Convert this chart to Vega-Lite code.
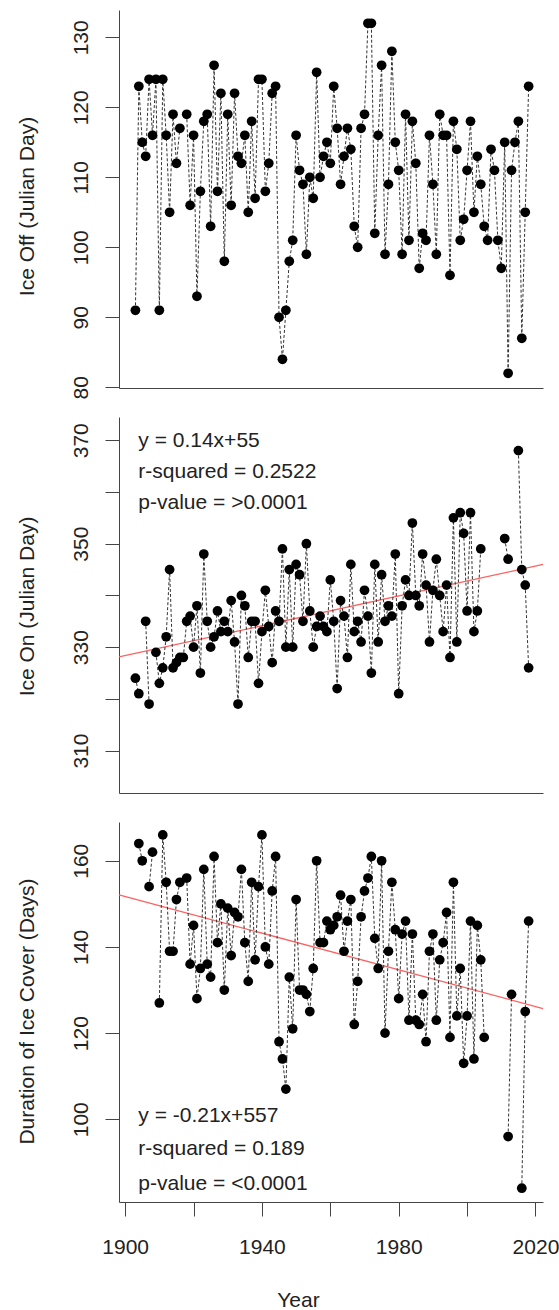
{
  "$schema": "https://vega.github.io/schema/vega-lite/v6.json",
  "background": "white",
  "padding": {"left": 16, "top": 10, "right": 0, "bottom": 0},
  "autosize": {"type": "pad"},
  "spacing": 29,
  "bounds": "flush",
  "config": {
    "view": {"stroke": null},
    "font": "Liberation Sans",
    "axis": {
      "grid": false, "domainColor": "#444", "domainWidth": 1, "tickColor": "#444", "tickWidth": 1, "tickSize": 14,
      "labelFont": "Liberation Sans", "labelFontSize": 21, "labelColor": "#222",
      "titleFont": "Liberation Sans", "titleFontSize": 21, "titleFontWeight": "normal", "titleColor": "#222",
      "labelOverlap": false, "labelFlush": false
    }
  },
  "datasets": {
    "off": [
      {"Year":1903,"v":91},{"Year":1904,"v":123},{"Year":1905,"v":115},{"Year":1906,"v":113},{"Year":1907,"v":124},{"Year":1908,"v":116},{"Year":1909,"v":124},{"Year":1910,"v":91},{"Year":1911,"v":124},{"Year":1912,"v":116},
      {"Year":1913,"v":105},{"Year":1914,"v":119},{"Year":1915,"v":112},{"Year":1916,"v":117},{"Year":1917,"v":null},{"Year":1918,"v":119},{"Year":1919,"v":106},{"Year":1920,"v":116},{"Year":1921,"v":93},{"Year":1922,"v":108},
      {"Year":1923,"v":118},{"Year":1924,"v":119},{"Year":1925,"v":103},{"Year":1926,"v":126},{"Year":1927,"v":108},{"Year":1928,"v":122},{"Year":1929,"v":98},{"Year":1930,"v":119},{"Year":1931,"v":106},{"Year":1932,"v":122},
      {"Year":1933,"v":113},{"Year":1934,"v":112},{"Year":1935,"v":116},{"Year":1936,"v":105},{"Year":1937,"v":118},{"Year":1938,"v":107},{"Year":1939,"v":124},{"Year":1940,"v":124},{"Year":1941,"v":108},{"Year":1942,"v":112},
      {"Year":1943,"v":122},{"Year":1944,"v":123},{"Year":1945,"v":90},{"Year":1946,"v":84},{"Year":1947,"v":91},{"Year":1948,"v":98},{"Year":1949,"v":101},{"Year":1950,"v":116},{"Year":1951,"v":111},{"Year":1952,"v":109},
      {"Year":1953,"v":99},{"Year":1954,"v":110},{"Year":1955,"v":107},{"Year":1956,"v":125},{"Year":1957,"v":110},{"Year":1958,"v":113},{"Year":1959,"v":115},{"Year":1960,"v":112},{"Year":1961,"v":123},{"Year":1962,"v":117},
      {"Year":1963,"v":109},{"Year":1964,"v":113},{"Year":1965,"v":117},{"Year":1966,"v":114},{"Year":1967,"v":103},{"Year":1968,"v":100},{"Year":1969,"v":117},{"Year":1970,"v":119},{"Year":1971,"v":132},{"Year":1972,"v":132},
      {"Year":1973,"v":102},{"Year":1974,"v":116},{"Year":1975,"v":126},{"Year":1976,"v":99},{"Year":1977,"v":109},{"Year":1978,"v":128},{"Year":1979,"v":115},{"Year":1980,"v":111},{"Year":1981,"v":99},{"Year":1982,"v":119},
      {"Year":1983,"v":101},{"Year":1984,"v":118},{"Year":1985,"v":112},{"Year":1986,"v":97},{"Year":1987,"v":102},{"Year":1988,"v":101},{"Year":1989,"v":116},{"Year":1990,"v":109},{"Year":1991,"v":99},{"Year":1992,"v":119},
      {"Year":1993,"v":116},{"Year":1994,"v":116},{"Year":1995,"v":96},{"Year":1996,"v":118},{"Year":1997,"v":114},{"Year":1998,"v":101},{"Year":1999,"v":104},{"Year":2000,"v":111},{"Year":2001,"v":118},{"Year":2002,"v":105},
      {"Year":2003,"v":113},{"Year":2004,"v":109},{"Year":2005,"v":103},{"Year":2006,"v":101},{"Year":2007,"v":114},{"Year":2008,"v":111},{"Year":2009,"v":101},{"Year":2010,"v":97},{"Year":2011,"v":115},{"Year":2012,"v":82},
      {"Year":2013,"v":111},{"Year":2014,"v":115},{"Year":2015,"v":118},{"Year":2016,"v":87},{"Year":2017,"v":105},{"Year":2018,"v":123}
    ],
    "on": [
      {"Year":1903,"v":324},{"Year":1904,"v":321},{"Year":1905,"v":null},{"Year":1906,"v":335},{"Year":1907,"v":319},{"Year":1908,"v":null},{"Year":1909,"v":329},{"Year":1910,"v":323},{"Year":1911,"v":326},{"Year":1912,"v":332},
      {"Year":1913,"v":345},{"Year":1914,"v":326},{"Year":1915,"v":327},{"Year":1916,"v":328},{"Year":1917,"v":328},{"Year":1918,"v":335},{"Year":1919,"v":336},{"Year":1920,"v":330},{"Year":1921,"v":338},{"Year":1922,"v":325},
      {"Year":1923,"v":348},{"Year":1924,"v":335},{"Year":1925,"v":330},{"Year":1926,"v":332},{"Year":1927,"v":337},{"Year":1928,"v":333},{"Year":1929,"v":335},{"Year":1930,"v":333},{"Year":1931,"v":339},{"Year":1932,"v":331},
      {"Year":1933,"v":319},{"Year":1934,"v":340},{"Year":1935,"v":338},{"Year":1936,"v":328},{"Year":1937,"v":335},{"Year":1938,"v":335},{"Year":1939,"v":323},{"Year":1940,"v":333},{"Year":1941,"v":341},{"Year":1942,"v":334},
      {"Year":1943,"v":327},{"Year":1944,"v":337},{"Year":1945,"v":335},{"Year":1946,"v":349},{"Year":1947,"v":330},{"Year":1948,"v":345},{"Year":1949,"v":330},{"Year":1950,"v":346},{"Year":1951,"v":344},{"Year":1952,"v":335},
      {"Year":1953,"v":350},{"Year":1954,"v":337},{"Year":1955,"v":330},{"Year":1956,"v":334},{"Year":1957,"v":336},{"Year":1958,"v":334},{"Year":1959,"v":333},{"Year":1960,"v":343},{"Year":1961,"v":335},{"Year":1962,"v":322},
      {"Year":1963,"v":339},{"Year":1964,"v":336},{"Year":1965,"v":328},{"Year":1966,"v":346},{"Year":1967,"v":333},{"Year":1968,"v":335},{"Year":1969,"v":331},{"Year":1970,"v":341},{"Year":1971,"v":336},{"Year":1972,"v":325},
      {"Year":1973,"v":346},{"Year":1974,"v":331},{"Year":1975,"v":344},{"Year":1976,"v":335},{"Year":1977,"v":338},{"Year":1978,"v":336},{"Year":1979,"v":348},{"Year":1980,"v":321},{"Year":1981,"v":338},{"Year":1982,"v":343},
      {"Year":1983,"v":340},{"Year":1984,"v":354},{"Year":1985,"v":340},{"Year":1986,"v":338},{"Year":1987,"v":348},{"Year":1988,"v":342},{"Year":1989,"v":331},{"Year":1990,"v":341},{"Year":1991,"v":347},{"Year":1992,"v":340},
      {"Year":1993,"v":333},{"Year":1994,"v":342},{"Year":1995,"v":328},{"Year":1996,"v":355},{"Year":1997,"v":331},{"Year":1998,"v":356},{"Year":1999,"v":352},{"Year":2000,"v":337},{"Year":2001,"v":356},{"Year":2002,"v":333},
      {"Year":2003,"v":337},{"Year":2004,"v":349},{"Year":2005,"v":null},{"Year":2006,"v":null},{"Year":2007,"v":null},{"Year":2008,"v":null},{"Year":2009,"v":null},{"Year":2010,"v":null},{"Year":2011,"v":351},{"Year":2012,"v":347},
      {"Year":2013,"v":null},{"Year":2014,"v":null},{"Year":2015,"v":368},{"Year":2016,"v":345},{"Year":2017,"v":342},{"Year":2018,"v":326}
    ],
    "dur": [
      {"Year":1904,"v":164},{"Year":1905,"v":160},{"Year":1906,"v":null},{"Year":1907,"v":154},{"Year":1908,"v":162},{"Year":1909,"v":null},{"Year":1910,"v":127},{"Year":1911,"v":166},{"Year":1912,"v":155},
      {"Year":1913,"v":139},{"Year":1914,"v":139},{"Year":1915,"v":151},{"Year":1916,"v":155},{"Year":1917,"v":null},{"Year":1918,"v":156},{"Year":1919,"v":136},{"Year":1920,"v":145},{"Year":1921,"v":128},{"Year":1922,"v":135},
      {"Year":1923,"v":158},{"Year":1924,"v":136},{"Year":1925,"v":133},{"Year":1926,"v":161},{"Year":1927,"v":141},{"Year":1928,"v":150},{"Year":1929,"v":130},{"Year":1930,"v":149},{"Year":1931,"v":138},{"Year":1932,"v":148},
      {"Year":1933,"v":147},{"Year":1934,"v":158},{"Year":1935,"v":141},{"Year":1936,"v":132},{"Year":1937,"v":155},{"Year":1938,"v":137},{"Year":1939,"v":154},{"Year":1940,"v":166},{"Year":1941,"v":140},{"Year":1942,"v":136},
      {"Year":1943,"v":153},{"Year":1944,"v":161},{"Year":1945,"v":118},{"Year":1946,"v":114},{"Year":1947,"v":107},{"Year":1948,"v":133},{"Year":1949,"v":121},{"Year":1950,"v":151},{"Year":1951,"v":130},{"Year":1952,"v":130},
      {"Year":1953,"v":129},{"Year":1954,"v":125},{"Year":1955,"v":135},{"Year":1956,"v":160},{"Year":1957,"v":141},{"Year":1958,"v":141},{"Year":1959,"v":146},{"Year":1960,"v":144},{"Year":1961,"v":145},{"Year":1962,"v":147},
      {"Year":1963,"v":152},{"Year":1964,"v":139},{"Year":1965,"v":146},{"Year":1966,"v":151},{"Year":1967,"v":122},{"Year":1968,"v":132},{"Year":1969,"v":147},{"Year":1970,"v":153},{"Year":1971,"v":156},{"Year":1972,"v":161},
      {"Year":1973,"v":142},{"Year":1974,"v":135},{"Year":1975,"v":160},{"Year":1976,"v":120},{"Year":1977,"v":139},{"Year":1978,"v":155},{"Year":1979,"v":144},{"Year":1980,"v":128},{"Year":1981,"v":143},{"Year":1982,"v":146},
      {"Year":1983,"v":123},{"Year":1984,"v":143},{"Year":1985,"v":123},{"Year":1986,"v":122},{"Year":1987,"v":129},{"Year":1988,"v":118},{"Year":1989,"v":139},{"Year":1990,"v":143},{"Year":1991,"v":123},{"Year":1992,"v":137},
      {"Year":1993,"v":141},{"Year":1994,"v":148},{"Year":1995,"v":119},{"Year":1996,"v":155},{"Year":1997,"v":124},{"Year":1998,"v":135},{"Year":1999,"v":113},{"Year":2000,"v":124},{"Year":2001,"v":146},{"Year":2002,"v":114},
      {"Year":2003,"v":145},{"Year":2004,"v":137},{"Year":2005,"v":119},{"Year":2006,"v":null},{"Year":2007,"v":null},{"Year":2008,"v":null},{"Year":2009,"v":null},{"Year":2010,"v":null},{"Year":2011,"v":null},{"Year":2012,"v":96},
      {"Year":2013,"v":129},{"Year":2014,"v":null},{"Year":2015,"v":null},{"Year":2016,"v":84},{"Year":2017,"v":125},{"Year":2018,"v":146}
    ],
    "trend_on": [{"Year":1898.2,"v":328.1},{"Year":2022.2,"v":346.0}],
    "trend_dur": [{"Year":1898.2,"v":152.1},{"Year":2022.2,"v":125.7}],
    "notes_on": [
      {"Year":1903.85,"v":368.7,"label":"y = 0.14x+55"},
      {"Year":1903.85,"v":362.8,"label":"r-squared = 0.2522"},
      {"Year":1903.85,"v":356.7,"label":"p-value = >0.0001"}
    ],
    "notes_dur": [
      {"Year":1903.85,"v":99.4,"label":"y = -0.21x+557"},
      {"Year":1903.85,"v":91.7,"label":"r-squared = 0.189"},
      {"Year":1903.85,"v":83.7,"label":"p-value = <0.0001"}
    ]
  },
  "vconcat": [
    {
      "width": 424, "height": 378,
      "encoding": {
        "x": {"field": "Year", "type": "quantitative", "scale": {"domain": [1898.2, 2022.2], "nice": false, "zero": false},
              "axis": {"ticks": false, "labels": false, "title": null, "domain": true}},
        "y": {"field": "v", "type": "quantitative", "scale": {"domain": [79.9, 133.9], "nice": false, "zero": false},
              "axis": {"values": [80, 90, 100, 110, 120, 130], "labelAngle": 270, "labelAlign": "center", "labelBaseline": "alphabetic", "labelPadding": 18,
                       "title": "Ice Off (Julian Day)", "titleAngle": 270, "titleAlign": "center", "titleBaseline": "alphabetic", "titleX": -86, "titleY": 196}}
      },
      "layer": [
        {"data": {"name": "off"}, "mark": {"type": "line", "stroke": "#333", "strokeWidth": 1, "strokeDash": [3, 2], "invalid": "break-paths-show-domains"}},
        {"data": {"name": "off"}, "transform": [{"filter": "isValid(datum.v)"}], "mark": {"type": "point", "filled": true, "color": "#000", "size": 95, "opacity": 1, "strokeWidth": 0}}
      ]
    },
    {
      "width": 424, "height": 376,
      "encoding": {
        "x": {"field": "Year", "type": "quantitative", "scale": {"domain": [1898.2, 2022.2], "nice": false, "zero": false},
              "axis": {"ticks": false, "labels": false, "title": null, "domain": true}},
        "y": {"field": "v", "type": "quantitative", "scale": {"domain": [301.8, 374.5], "nice": false, "zero": false},
              "axis": {"values": [310, 320, 330, 340, 350, 360, 370], "labelExpr": "datum.value % 20 == 10 ? datum.label : ''", "labelAngle": 270, "labelAlign": "center", "labelBaseline": "alphabetic", "labelPadding": 18,
                       "title": "Ice On (Julian Day)", "titleAngle": 270, "titleAlign": "center", "titleBaseline": "alphabetic", "titleX": -86, "titleY": 189}}
      },
      "layer": [
        {"data": {"name": "trend_on"}, "mark": {"type": "line", "stroke": "#ff6060", "strokeWidth": 1.3}},
        {"data": {"name": "on"}, "mark": {"type": "line", "stroke": "#333", "strokeWidth": 1, "strokeDash": [3, 2], "invalid": "break-paths-show-domains"}},
        {"data": {"name": "on"}, "transform": [{"filter": "isValid(datum.v)"}], "mark": {"type": "point", "filled": true, "color": "#000", "size": 95, "opacity": 1, "strokeWidth": 0}},
        {"data": {"name": "notes_on"}, "mark": {"type": "text", "align": "left", "baseline": "alphabetic", "fontSize": 21, "font": "Liberation Sans", "color": "#222"},
         "encoding": {"text": {"field": "label"}}}
      ]
    },
    {
      "width": 424, "height": 380,
      "encoding": {
        "x": {"field": "Year", "type": "quantitative", "scale": {"domain": [1898.2, 2022.2], "nice": false, "zero": false},
              "axis": {"values": [1900, 1920, 1940, 1960, 1980, 2000, 2020], "format": "d", "labelExpr": "datum.value % 40 == 20 ? datum.label : ''",
                       "labelAlign": "center", "labelBaseline": "alphabetic", "labelPadding": 37,
                       "title": "Year", "titleX": 179, "titleY": 104, "titleAlign": "center", "titleBaseline": "alphabetic"}},
        "y": {"field": "v", "type": "quantitative", "scale": {"domain": [80.8, 169], "nice": false, "zero": false},
              "axis": {"values": [100, 120, 140, 160], "labelAngle": 270, "labelAlign": "center", "labelBaseline": "alphabetic", "labelPadding": 18,
                       "title": "Duration of Ice Cover (Days)", "titleAngle": 270, "titleAlign": "center", "titleBaseline": "alphabetic", "titleX": -86, "titleY": 189}}
      },
      "layer": [
        {"data": {"name": "trend_dur"}, "mark": {"type": "line", "stroke": "#ff6060", "strokeWidth": 1.3}},
        {"data": {"name": "dur"}, "mark": {"type": "line", "stroke": "#333", "strokeWidth": 1, "strokeDash": [3, 2], "invalid": "break-paths-show-domains"}},
        {"data": {"name": "dur"}, "transform": [{"filter": "isValid(datum.v)"}], "mark": {"type": "point", "filled": true, "color": "#000", "size": 95, "opacity": 1, "strokeWidth": 0}},
        {"data": {"name": "notes_dur"}, "mark": {"type": "text", "align": "left", "baseline": "alphabetic", "fontSize": 21, "font": "Liberation Sans", "color": "#222"},
         "encoding": {"text": {"field": "label"}}}
      ]
    }
  ]
}
